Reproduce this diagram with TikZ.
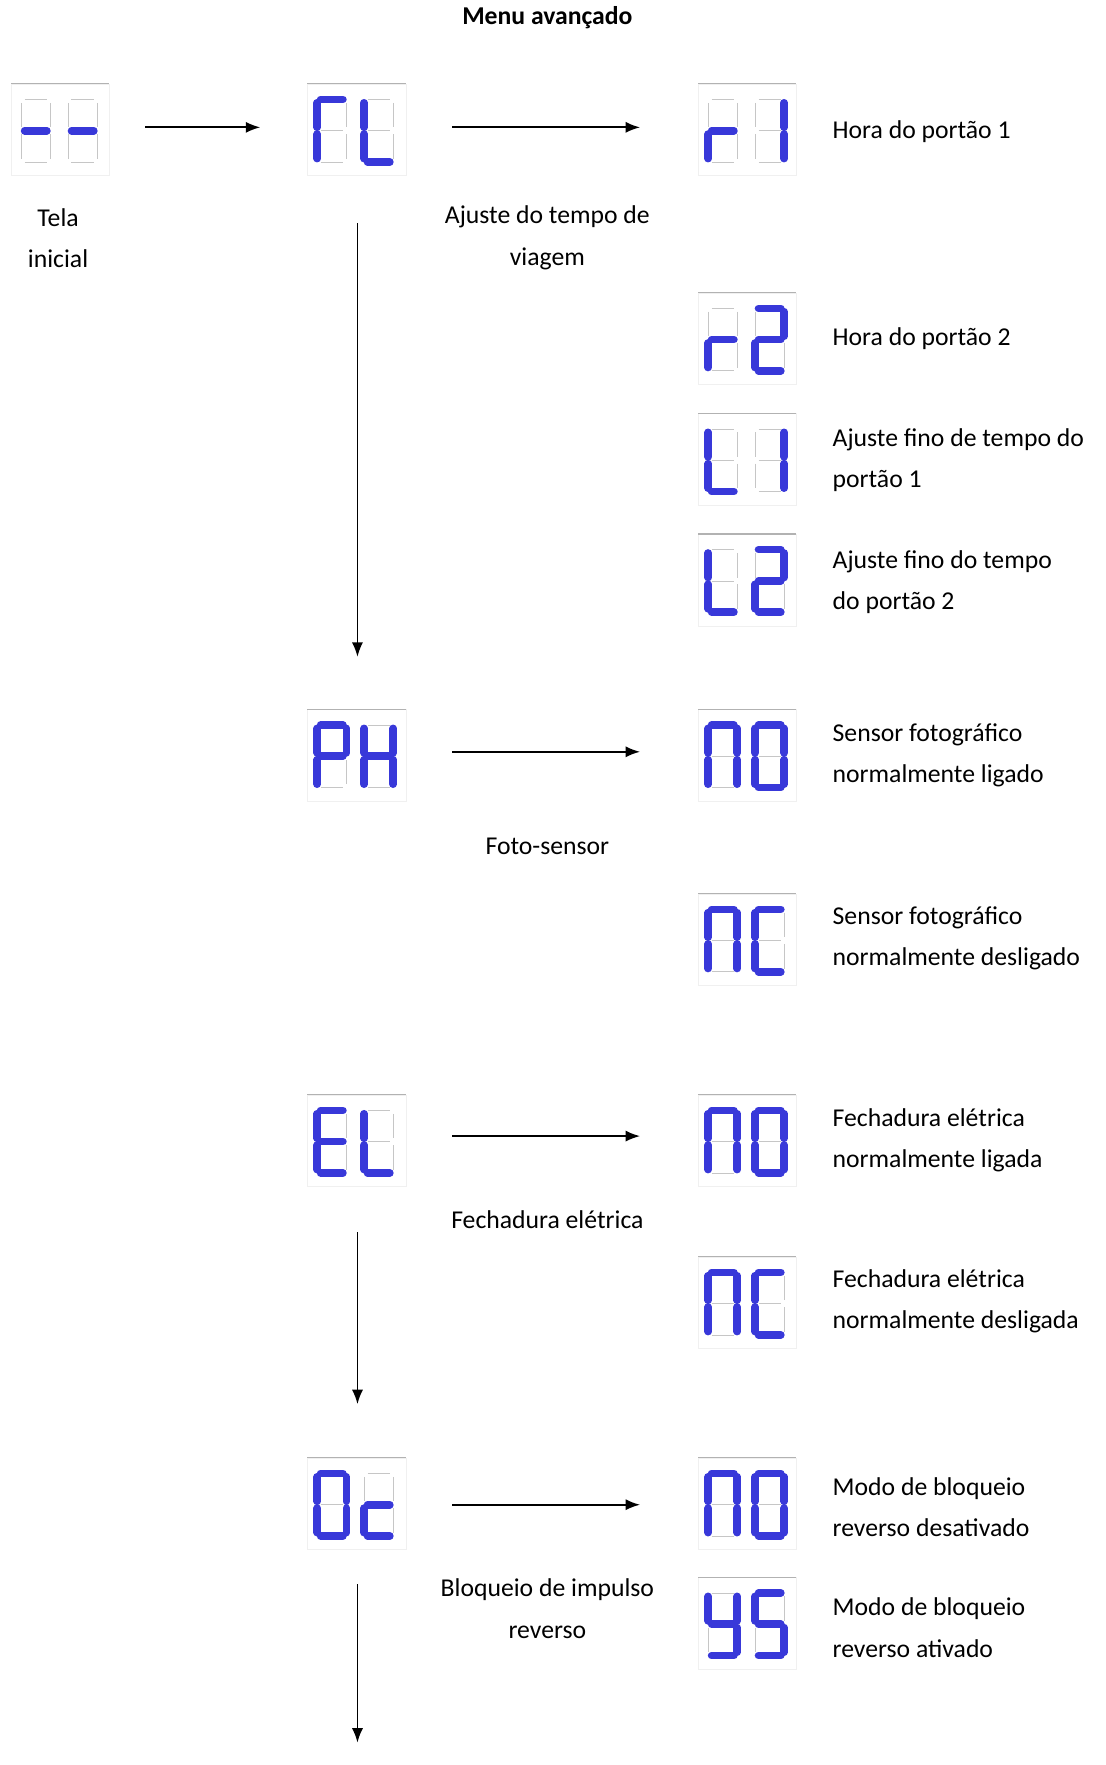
\documentclass[tikz,border=0pt]{standalone}
\usepackage{fontspec}
\setmainfont{Carlito}
\definecolor{segblue}{rgb}{0.22,0.22,0.85}
\usetikzlibrary{arrows.meta}
\tikzset{
  segoff/.style={draw=gray!45,line width=0.35pt},
  segon/.style={draw=segblue,line width=3.4pt,line cap=round},
  dispbox/.style={draw=gray!12,line width=0.4pt,minimum width=44pt,minimum height=41pt,inner sep=0pt,anchor=north west},
  lbl/.style={font=\fontsize{11.5}{18.5}\selectfont,align=left,anchor=west,inner sep=0pt},
  clbl/.style={font=\fontsize{11.5}{18.5}\selectfont,align=center,inner sep=0pt},
  arr/.style={-{Latex[length=6.5pt,width=5pt]},line width=0.8pt}
}
\newcommand\drawseg[2]{%
  \if#2a\draw[#1] (5,4)--(25,4);\fi
  \if#2b\draw[#1] (28,7)--(28,29);\fi
  \if#2c\draw[#1] (28,35)--(28,57);\fi
  \if#2d\draw[#1] (5,60)--(25,60);\fi
  \if#2e\draw[#1] (2,35)--(2,57);\fi
  \if#2f\draw[#1] (2,7)--(2,29);\fi
  \if#2g\draw[#1] (5,32)--(25,32);\fi}
\newcommand\digitd[3]{\begin{scope}[shift={(#1,#2)}]
  \foreach \s in {a,b,c,d,e,f,g}{\drawseg{segoff}{\s}}
  \foreach \s in {#3}{\drawseg{segon}{\s}}
\end{scope}}
\newcommand\disp[5]{%
  \node[dispbox] (#1) at (#2,#3) {};
  \draw[gray!60,line width=0.5pt] (#2,#3)--++(88,0);
  \digitd{#2+7}{#3+10}{#4}\digitd{#2+49}{#3+10}{#5}}
\begin{document}
\begin{tikzpicture}[x=0.5pt,y=-0.5pt]
\useasboundingbox (0,0) rectangle (990,1580);
\node[clbl,font=\fontsize{11.5}{18.5}\selectfont\bfseries] (title) at (490,16) {Menu avançado};
\disp{d0}{10}{75}{g}{g}
\disp{drl}{275}{75}{a,f,e}{f,e,d}
\disp{dr1}{625}{75}{g,e}{b,c}
\disp{dr2}{625}{262}{g,e}{a,b,g,e,d}
\disp{dl1}{625}{370}{f,e,d}{b,c}
\disp{dl2}{625}{478}{f,e,d}{a,b,g,e,d}
\disp{dph}{275}{635}{a,b,f,g,e}{b,c,e,f,g}
\disp{dno1}{625}{635}{a,b,c,e,f}{a,b,c,d,e,f}
\disp{dnc1}{625}{800}{a,b,c,e,f}{a,f,e,d}
\disp{del}{275}{980}{a,f,g,e,d}{f,e,d}
\disp{dno2}{625}{980}{a,b,c,e,f}{a,b,c,d,e,f}
\disp{dnc2}{625}{1125}{a,b,c,e,f}{a,f,e,d}
\disp{doc}{275}{1305}{a,b,c,d,e,f}{g,e,d}
\disp{dno3}{625}{1305}{a,b,c,e,f}{a,b,c,d,e,f}
\disp{dys}{625}{1412}{f,g,b,c,d}{a,f,g,c,d}
% arrows
\coordinate (a1s) at (130,114); \coordinate (a1e) at (233,114);
\coordinate (a2s) at (405,114); \coordinate (a2e) at (573,114);
\coordinate (v1s) at (320,200); \coordinate (v1e) at (320,588);
\coordinate (a3s) at (405,673); \coordinate (a3e) at (573,673);
\coordinate (a4s) at (405,1017); \coordinate (a4e) at (573,1017);
\coordinate (v2s) at (320,1103); \coordinate (v2e) at (320,1257);
\coordinate (a5s) at (405,1347); \coordinate (a5e) at (573,1347);
\coordinate (v3s) at (320,1418); \coordinate (v3e) at (320,1560);
\foreach \p in {a1,a2,v1,a3,a4,v2,a5,v3}{\draw[arr] (\p s)--(\p e);}
% labels
\node[clbl] (t0) at (52,213) {Tela\\inicial};
\node[clbl] (t1) at (490,213) {Ajuste do tempo de\\viagem};
\node[clbl] (t2) at (490,758) {Foto-sensor};
\node[clbl] (t3) at (490,1092) {Fechadura elétrica};
\node[clbl] (t4) at (490,1440) {Bloqueio de impulso\\reverso};
\node[lbl] (l1) at (745,118) {Hora do portão 1};
\node[lbl] (l2) at (745,303) {Hora do portão 2};
\node[lbl] (l3) at (745,412) {Ajuste fino de tempo do\\portão 1};
\node[lbl] (l4) at (745,521) {Ajuste fino do tempo\\do portão 2};
\node[lbl] (l5) at (745,676) {Sensor fotográfico\\normalmente ligado};
\node[lbl] (l6) at (745,840) {Sensor fotográfico\\normalmente desligado};
\node[lbl] (l7) at (745,1021) {Fechadura elétrica\\normalmente ligada};
\node[lbl] (l8) at (745,1165) {Fechadura elétrica\\normalmente desligada};
\node[lbl] (l9) at (745,1349) {Modo de bloqueio\\reverso desativado};
\node[lbl] (l10) at (745,1457) {Modo de bloqueio\\reverso ativado};
\end{tikzpicture}
\end{document}
